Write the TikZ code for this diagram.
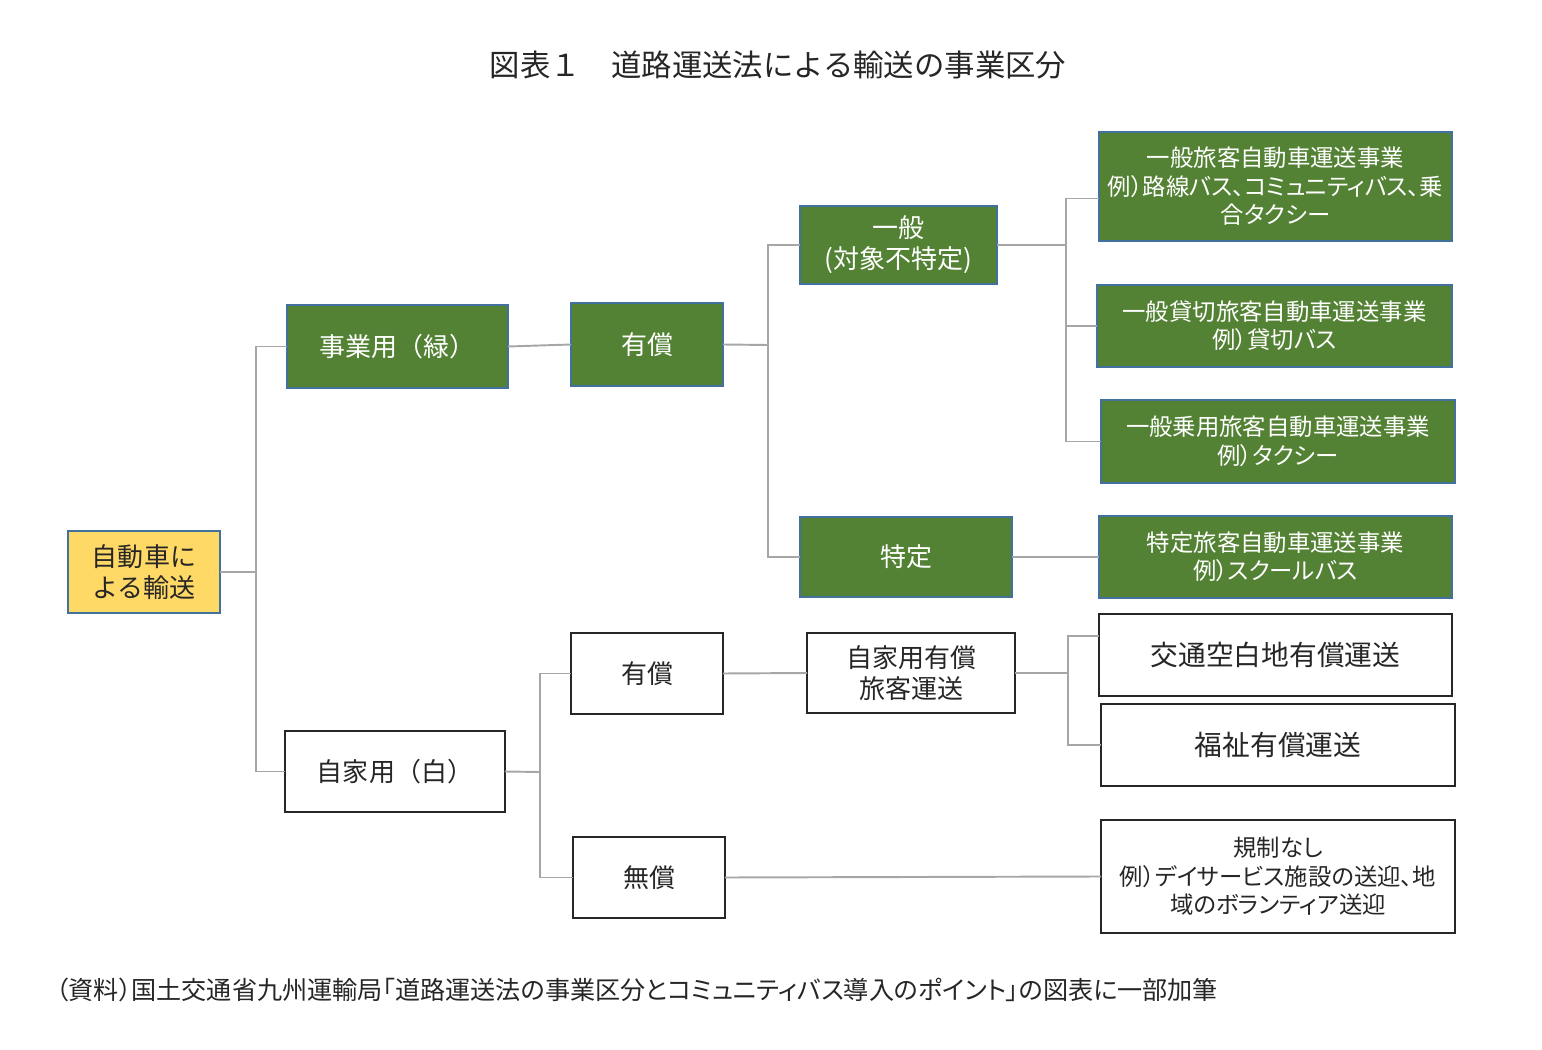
\documentclass[tikz,border=0pt]{standalone}
\usepackage{fontspec}
\setmainfont{Noto Sans CJK JP}
\newfontfamily\paltfont{Noto Sans CJK JP}[RawFeature=+palt]
\usepackage{xcolor}

\definecolor{boxgreen}{HTML}{548235}
\definecolor{boxedge}{HTML}{41719C}
\definecolor{boxyellow}{HTML}{FFD966}
\definecolor{linegray}{HTML}{A6A6A6}
\definecolor{txtdark}{HTML}{262626}

\tikzset{
  gbox/.style={draw=boxedge, line width=1.1pt, fill=boxgreen, text=white,
    inner sep=0pt, outer sep=0pt, align=center},
  wbox/.style={draw=txtdark, line width=1.1pt, fill=white, text=txtdark,
    inner sep=0pt, outer sep=0pt, align=center},
  ybox/.style={draw=boxedge, line width=1.1pt, fill=boxyellow, text=txtdark,
    inner sep=0pt, outer sep=0pt, align=center},
  conn/.style={draw=linegray, line width=1.1pt},
  big/.style={font=\fontsize{14.8}{17.6}\selectfont},
  small/.style={font=\paltfont\fontsize{13.3}{16.2}\selectfont}
}

\begin{document}
\begin{tikzpicture}[x=0.02cm, y=-0.02cm]
            \useasboundingbox (0,0) rectangle (1542,1050);

            % title and source
            \node[text=txtdark, font=\fontsize{17.3}{20}\selectfont] (title) at (778,65) {図表１　道路運送法による輸送の事業区分};
            \node[text=txtdark, anchor=west, font=\paltfont\fontsize{14.3}{17}\selectfont] (source) at (50,990)
                {（資料）国土交通省九州運輸局「道路運送法の事業区分とコミュニティバス導入のポイント」の図表に一部加筆};

            % left column
            \node[ybox, big, minimum width=3.04cm, minimum height=1.64cm] (root) at (144,572) {自動車に\\よる輸送};
            \node[gbox, big, minimum width=4.42cm, minimum height=1.66cm] (jigyo) at (397.5,346.5) {事業用（緑）};
            \node[wbox, big, minimum width=4.40cm, minimum height=1.62cm] (jikayo) at (395,771.5) {自家用（白）};

            % middle columns
            \node[gbox, big, minimum width=3.04cm, minimum height=1.66cm] (yusho) at (647,344.5) {有償};
            \node[gbox, big, minimum width=3.94cm, minimum height=1.56cm] (ippan) at (898.5,245) {一般\\(対象不特定)};
            \node[gbox, big, minimum width=4.24cm, minimum height=1.60cm] (tokutei) at (906,557) {特定};
            \node[wbox, big, minimum width=3.04cm, minimum height=1.62cm] (jyusho) at (647,673.5) {有償};
            \node[wbox, big, minimum width=3.04cm, minimum height=1.62cm] (musho) at (649,877.5) {無償};
            \node[wbox, big, minimum width=4.16cm, minimum height=1.60cm] (jiyusho) at (911,673) {自家用有償\\旅客運送};

            % right column
            \node[gbox, small, minimum width=7.06cm, minimum height=2.18cm] (ippanryo) at (1275.5,186.5)
                {一般旅客自動車運送事業\\例）路線バス、コミュニティバス、乗\\合タクシー};
            \node[gbox, small, minimum width=7.10cm, minimum height=1.64cm] (kashikiri) at (1274.5,326)
                {一般貸切旅客自動車運送事業\\例）貸切バス};
            \node[gbox, small, minimum width=7.08cm, minimum height=1.66cm] (jyoyo) at (1278,441.5)
                {一般乗用旅客自動車運送事業\\例）タクシー};
            \node[gbox, small, minimum width=7.06cm, minimum height=1.64cm] (tokuryo) at (1275.5,557)
                {特定旅客自動車運送事業\\例）スクールバス};
            \node[wbox, font=\fontsize{15.8}{18}\selectfont, minimum width=7.06cm, minimum height=1.64cm] (kuhaku) at (1275.5,655)
                {交通空白地有償運送};
            \node[wbox, font=\fontsize{15.8}{18}\selectfont, minimum width=7.08cm, minimum height=1.64cm] (fukushi) at (1278,745)
                {福祉有償運送};
            \node[wbox, small, minimum width=7.08cm, minimum height=2.26cm] (kisei) at (1278,876.5)
                {規制なし\\例）デイサービス施設の送迎、地\\域のボランティア送迎};

            % branch points
            \coordinate (b1) at (256,572);
            \coordinate (b2) at (768,345);
            \coordinate (b3) at (1066,245);
            \coordinate (b4) at (540,772);
            \coordinate (b5) at (1068,673);

            % connectors
            \draw[conn] (root.east) -- (b1);
            \draw[conn] (b1) |- (jigyo.west);
            \draw[conn] (b1) |- (jikayo.west);
            \draw[conn] (jigyo.east) -- (yusho.west);
            \draw[conn] (yusho.east) -- (b2);
            \draw[conn] (b2) |- (ippan.west);
            \draw[conn] (b2) |- (tokutei.west);
            \draw[conn] (ippan.east) -- (b3);
            \draw[conn] (b3) |- ([yshift=-0.24cm]ippanryo.west);
            \draw[conn] (b3) |- (kashikiri.west);
            \draw[conn] (b3) |- (jyoyo.west);
            \draw[conn] (tokutei.east) -- (tokuryo.west);
            \draw[conn] (jikayo.east) -- (b4);
            \draw[conn] (b4) |- (jyusho.west);
            \draw[conn] (b4) |- (musho.west);
            \draw[conn] (jyusho.east) -- (jiyusho.west);
            \draw[conn] (jiyusho.east) -- (b5);
            \draw[conn] (b5) |- ([yshift=0.38cm]kuhaku.west);
            \draw[conn] (b5) |- (fukushi.west);
            \draw[conn] (musho.east) -- (kisei.west);
        \end{tikzpicture}
\end{document}
